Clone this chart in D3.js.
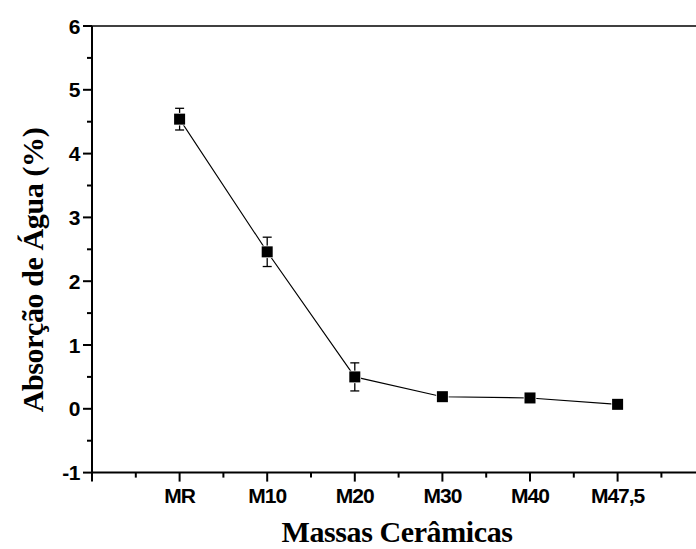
<!DOCTYPE html>
<html>
<head>
<meta charset="utf-8">
<script src="https://cdn.jsdelivr.net/npm/d3@7"></script>
<style>
  body { margin: 0; background: #fff; }
  svg { display: block; }
</style>
</head>
<body>
<div id="chart"></div>
<script>
// data
const categories = ["MR", "M10", "M20", "M30", "M40", "M47,5"];
const absorcao = [4.54, 2.46, 0.50, 0.19, 0.17, 0.07];
const erro = [0.17, 0.23, 0.22, 0, 0, 0];
const yTicks = [-1, 0, 1, 2, 3, 4, 5, 6];

const width = 696, height = 549;
const plotLeft = 92, plotTop = 26, plotBottom = 472.6;

const svg = d3.select('#chart')
              .append('svg')
              .attr('width', width)
              .attr('height', height);

// x runs from -1 to 7 category slots, right edge falls outside the window
const x = d3.scaleLinear()
            .domain([-1, 7])
            .range([plotLeft, plotLeft + 8 * 87.6]);
const y = d3.scaleLinear()
            .domain([-1, 6])
            .range([plotBottom, plotTop]);

// frame: left, bottom, top
svg.append("line")
   .attr("x1", plotLeft).attr("x2", plotLeft)
   .attr("y1", plotTop).attr("y2", plotBottom)
   .attr("stroke", "#000").attr("stroke-width", 2);
svg.append("line")
   .attr("x1", plotLeft - 1).attr("x2", x(7))
   .attr("y1", plotBottom).attr("y2", plotBottom)
   .attr("stroke", "#000").attr("stroke-width", 2);
svg.append("line")
   .attr("x1", plotLeft - 1).attr("x2", x(7))
   .attr("y1", plotTop).attr("y2", plotTop)
   .attr("stroke", "#000").attr("stroke-width", 1.6);

// y ticks (major + minor halves), pointing out
const yMinor = d3.range(-0.5, 6, 1);
svg.append("g").selectAll("line.ymaj")
   .data(yTicks).enter().append("line")
   .attr("x1", plotLeft - 9).attr("x2", plotLeft)
   .attr("y1", d => y(d)).attr("y2", d => y(d))
   .attr("stroke", "#000").attr("stroke-width", 2);
svg.append("g").selectAll("line.ymin")
   .data(yMinor).enter().append("line")
   .attr("x1", plotLeft - 5).attr("x2", plotLeft)
   .attr("y1", d => y(d)).attr("y2", d => y(d))
   .attr("stroke", "#000").attr("stroke-width", 2);
svg.append("g").selectAll("text")
   .data(yTicks).enter().append("text")
   .attr("x", plotLeft - 12)
   .attr("y", d => y(d))
   .attr("dy", "0.36em")
   .attr("text-anchor", "end")
   .style("font-family", "'Liberation Sans', Arial, sans-serif")
   .style("font-weight", "bold")
   .style("font-size", "21px")
   .style("letter-spacing", "-0.5px")
   .text(d => d);

// x ticks
const xMajor = d3.range(-1, 8, 1);
const xMinor = d3.range(-0.5, 7, 1);
svg.append("g").selectAll("line.xmaj")
   .data(xMajor).enter().append("line")
   .attr("x1", d => x(d)).attr("x2", d => x(d))
   .attr("y1", plotBottom).attr("y2", plotBottom + 9)
   .attr("stroke", "#000").attr("stroke-width", 2);
svg.append("g").selectAll("line.xmin")
   .data(xMinor).enter().append("line")
   .attr("x1", d => x(d)).attr("x2", d => x(d))
   .attr("y1", plotBottom).attr("y2", plotBottom + 5)
   .attr("stroke", "#000").attr("stroke-width", 2);
svg.append("g").selectAll("text")
   .data(categories).enter().append("text")
   .attr("x", (d, i) => x(i))
   .attr("y", plotBottom + 30)
   .attr("text-anchor", "middle")
   .style("font-family", "'Liberation Sans', Arial, sans-serif")
   .style("font-weight", "bold")
   .style("font-size", "21px")
   .style("letter-spacing", "-1px")
   .text(d => d);

// axis titles
svg.append("text")
   .attr("x", 397).attr("y", 542)
   .attr("text-anchor", "middle")
   .style("font-family", "'Liberation Serif', 'Times New Roman', serif")
   .style("font-weight", "bold")
   .style("font-size", "30px")
   .style("letter-spacing", "-0.4px")
   .text("Massas Cerâmicas");
svg.append("text")
   .attr("transform", "translate(43,270) rotate(-90)")
   .attr("text-anchor", "middle")
   .style("font-family", "'Liberation Serif', 'Times New Roman', serif")
   .style("font-weight", "bold")
   .style("font-size", "30px")
   .style("letter-spacing", "-0.4px")
   .text("Absorção de Água (%)");

// line
const line = d3.line()
               .x((d, i) => x(i))
               .y(d => y(d));
svg.append("path")
   .datum(absorcao)
   .attr("d", line)
   .attr("fill", "none")
   .attr("stroke", "#000")
   .attr("stroke-width", 1.1);

// error bars
const eb = svg.append("g")
              .selectAll("g")
              .data(absorcao.map((v, i) => ({v: v, e: erro[i], i: i})).filter(d => d.e > 0))
              .enter().append("g")
              .attr("stroke", "#000")
              .attr("stroke-width", 1.3);
eb.append("line")
  .attr("x1", d => x(d.i)).attr("x2", d => x(d.i))
  .attr("y1", d => y(d.v + d.e)).attr("y2", d => y(d.v - d.e));
eb.append("line")
  .attr("x1", d => x(d.i) - 4.5).attr("x2", d => x(d.i) + 4.5)
  .attr("y1", d => y(d.v + d.e)).attr("y2", d => y(d.v + d.e));
eb.append("line")
  .attr("x1", d => x(d.i) - 4.5).attr("x2", d => x(d.i) + 4.5)
  .attr("y1", d => y(d.v - d.e)).attr("y2", d => y(d.v - d.e));

// square markers with a thin white halo
svg.append("g").selectAll("rect")
   .data(absorcao).enter().append("rect")
   .attr("x", (d, i) => x(i) - 5.5)
   .attr("y", d => y(d) - 5.5)
   .attr("width", 11).attr("height", 11)
   .attr("fill", "#000")
   .attr("stroke", "#fff")
   .attr("stroke-width", 1.5)
   .attr("paint-order", "stroke");
</script>
</body>
</html>
